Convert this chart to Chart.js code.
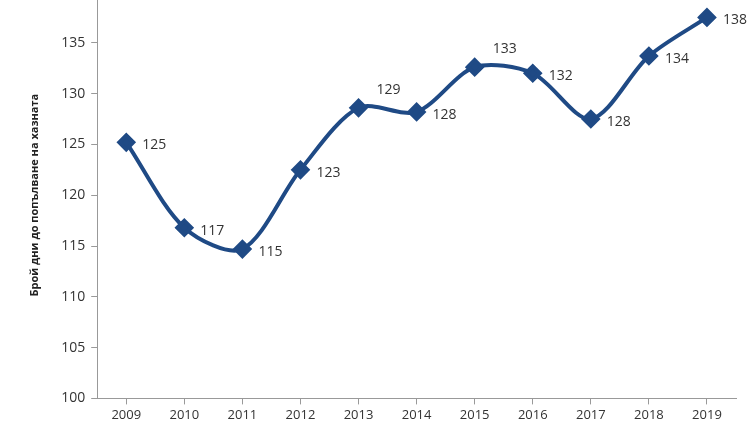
<!DOCTYPE html>
<html>
<head>
<meta charset="utf-8">
<script src="https://cdn.jsdelivr.net/npm/chart.js@4"></script>
<style>
  body { margin: 0; background: #fff; overflow: hidden; }
  #wrap { position: absolute; left: 0; top: -30px; width: 754px; height: 456px; }
</style>
</head>
<body>
<div id="wrap"><canvas id="chart"></canvas></div>
<script>
const years = ["2009", "2010", "2011", "2012", "2013", "2014", "2015", "2016", "2017", "2018", "2019"];
const days = [125.2, 116.8, 114.7, 122.5, 128.6, 128.2, 132.6, 132.0, 127.5, 133.7, 137.5];
const labels = ["125", "117", "115", "123", "129", "128", "133", "132", "128", "134", "138"];
const labelAbove = [false, false, false, false, true, false, true, false, false, false, false];

// draw the value labels next to each point
const valueLabels = {
    id: "valueLabels",
    afterDatasetsDraw(chart) {
        const ctx = chart.ctx;
        const meta = chart.getDatasetMeta(0);
        ctx.save();
        ctx.font = "14px 'Open Sans', sans-serif";
        ctx.fillStyle = "#333";
        ctx.textBaseline = "middle";
        meta.data.forEach((pt, i) => {
            if (labelAbove[i]) {
                ctx.fillText(labels[i], pt.x + 18, pt.y - 18);
            } else {
                ctx.fillText(labels[i], pt.x + 16, pt.y + 3);
            }
        });
        ctx.restore();
    }
};

new Chart(document.getElementById("chart"), {
    type: "line",
    data: {
        labels: years,
        datasets: [{
            data: days,
            borderColor: "#1f4a85",
            backgroundColor: "#1f4a85",
            borderWidth: 4,
            tension: 0.3,
            pointStyle: "rectRot",
            pointRadius: 7,
            pointHoverRadius: 7,
        }],
    },
    options: {
        responsive: true,
        maintainAspectRatio: false,
        animation: false,
        layout: { padding: { top: 22, right: 18, left: 24 } },
        plugins: { legend: { display: false }, tooltip: { enabled: false } },
        scales: {
            x: {
                offset: true,
                grid: { display: true, drawOnChartArea: false, tickLength: 6, color: "#999" },
                border: { color: "#999" },
                ticks: { color: "#333", font: { size: 13, family: "'Open Sans', sans-serif" } },
            },
            y: {
                min: 100,
                max: 140,
                grid: { display: true, drawOnChartArea: false, tickLength: 6, color: "#999" },
                border: { color: "#999" },
                ticks: { stepSize: 5, color: "#333", padding: 6, font: { size: 14, family: "'Open Sans', sans-serif" } },
                title: {
                    display: true,
                    text: "Брой дни до попълване на хазната",
                    color: "#222",
                    padding: { bottom: 14 },
                    font: { size: 11, weight: "bold", family: "'Open Sans', sans-serif" },
                },
            },
        },
    },
    plugins: [valueLabels],
});
</script>
</body>
</html>
